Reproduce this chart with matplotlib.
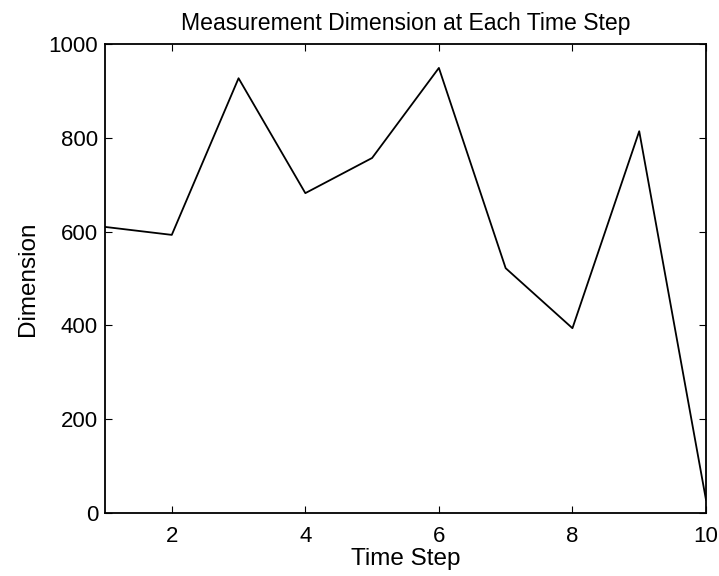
import matplotlib
matplotlib.use("Agg")
import matplotlib.pyplot as plt

plt.rcParams['font.family'] = ['Liberation Sans', 'DejaVu Sans']

time_step = [1, 2, 3, 4, 5, 6, 7, 8, 9, 10]
dimension = [610, 593, 927, 682, 757, 949, 522, 394, 814, 28]
xticks = [2, 4, 6, 8, 10]
yticks = [0, 200, 400, 600, 800, 1000]

fig = plt.figure(figsize=(7.19, 5.76), dpi=100)
ax = fig.add_axes([105/719, 1-513/576, (706-105)/719, (513-44)/576])
ax.plot(time_step, dimension, color='black', linewidth=1.3)
ax.set_xlim(1, 10)
ax.set_ylim(0, 1000)
ax.set_xticks(xticks)
ax.set_yticks(yticks)
ax.tick_params(direction='in', top=True, right=True, labelsize=16, length=5)
ax.tick_params(axis='x', pad=9)
ax.tick_params(axis='y', pad=5)
for s in ax.spines.values():
    s.set_linewidth(1.3)
ax.set_title('Measurement Dimension at Each Time Step', fontsize=16.6, pad=10)
ax.set_xlabel('Time Step', fontsize=17.5, labelpad=1)
ax.set_ylabel('Dimension', fontsize=17.5, labelpad=7)
fig.savefig('out.png', dpi=100)
